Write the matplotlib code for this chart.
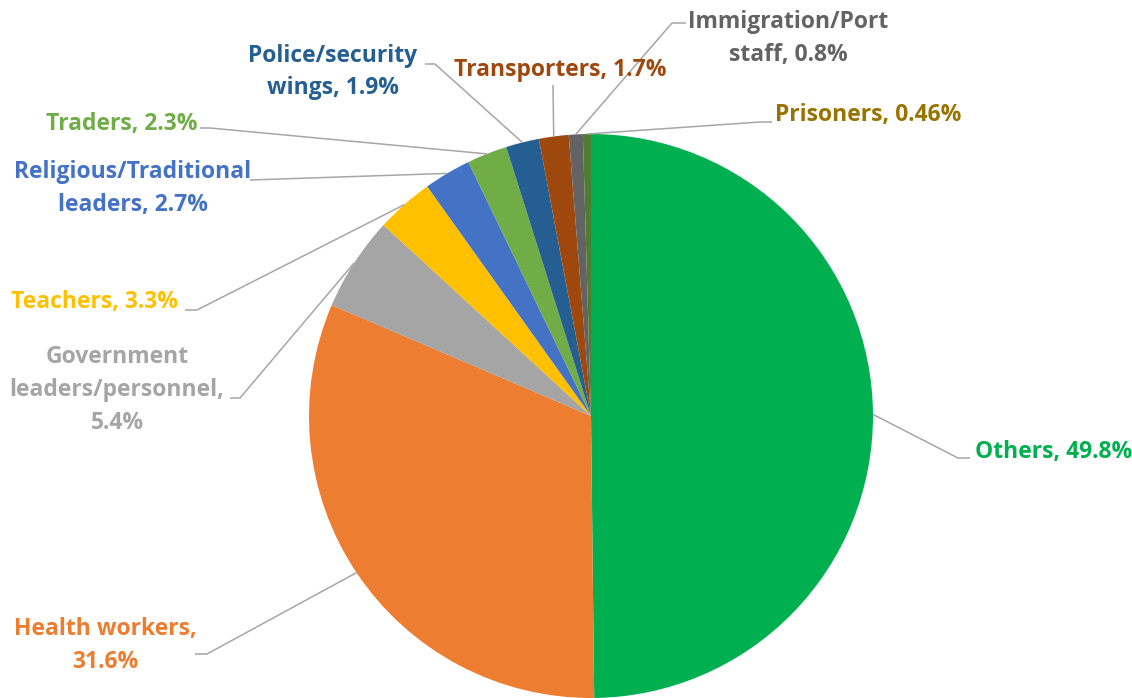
import numpy as np
import matplotlib.pyplot as plt

plt.rcParams['font.family'] = ['Open Sans', 'DejaVu Sans']

# Data
labels = ['Others', 'Health workers', 'Government leaders/personnel', 'Teachers',
          'Religious/Traditional leaders', 'Traders', 'Police/security wings',
          'Transporters', 'Immigration/Port staff', 'Prisoners']
shares = [49.8, 31.6, 5.4, 3.3, 2.7, 2.3, 1.9, 1.7, 0.8, 0.46]
label_texts = ['Others, 49.8%', 'Health workers,\n31.6%', 'Government\nleaders/personnel,\n5.4%',
               'Teachers, 3.3%', 'Religious/Traditional\nleaders, 2.7%', 'Traders, 2.3%',
               'Police/security\nwings, 1.9%', 'Transporters, 1.7%', 'Immigration/Port\nstaff, 0.8%',
               'Prisoners, 0.46%']
wedge_colors = ['#00B050', '#ED7D31', '#A5A5A5', '#FFC000', '#4472C4', '#70AD47',
                '#255E91', '#9E480E', '#636363', '#4E7D32']
text_colors = ['#00B050', '#ED7D31', '#A5A5A5', '#FFC000', '#4472C4', '#70AD47',
               '#255E91', '#9E480E', '#636363', '#997300']

# Layout in pixels: pie centre/radius, and for each label (elbow, line end x, text pos, ha)
W, H = 1132, 698
CX, CY, R = 591, 416, 282
layout = [
    ((958, 458), 970, (975, 452), 'left'),
    ((207, 654), 195, (105, 646), 'center'),
    ((240, 398), 230, (117, 390), 'center'),
    ((197, 310), 185, (178, 302), 'right'),
    ((250, 180), 250, (133, 188), 'center'),
    ((210, 128), 200, (197, 124), 'right'),
    ((435, 64), 425, (333, 72), 'center'),
    ((553, 85), 553, (560, 70), 'center'),
    ((672, 23), 686, (788, 39), 'center'),
    ((760, 122), 772, (775, 115), 'left'),
]


def px(x, y):
    return (x - CX) / R, (CY - y) / R


fig = plt.figure(figsize=(W / 100, H / 100), dpi=100)
ax = fig.add_axes([0, 0, 1, 1])
wedges, _ = ax.pie(shares, colors=wedge_colors, startangle=90, counterclock=False,
                   radius=1, center=(0, 0), wedgeprops=dict(linewidth=0))
ax.set_xlim(px(0, 0)[0], px(W, 0)[0])
ax.set_ylim(px(0, H)[1], px(0, 0)[1])
ax.set_aspect('equal')
ax.axis('off')

for w, txt, col, (elbow, hx, tpos, ha) in zip(wedges, label_texts, text_colors, layout):
    mid = np.deg2rad((w.theta1 + w.theta2) / 2)
    sx, sy = np.cos(mid), np.sin(mid)
    ex, ey = px(*elbow)
    endx, _ = px(hx, elbow[1])
    ax.plot([sx, ex, endx], [sy, ey, ey], color='#A6A6A6', lw=1.1,
            solid_capstyle='butt', zorder=1)
    tx, ty = px(*tpos)
    ax.text(tx, ty, txt, color=col, fontsize=16.5, fontweight='bold', ha=ha,
            va='center', multialignment='center', linespacing=1.5)

fig.savefig('out.png', dpi=100)
